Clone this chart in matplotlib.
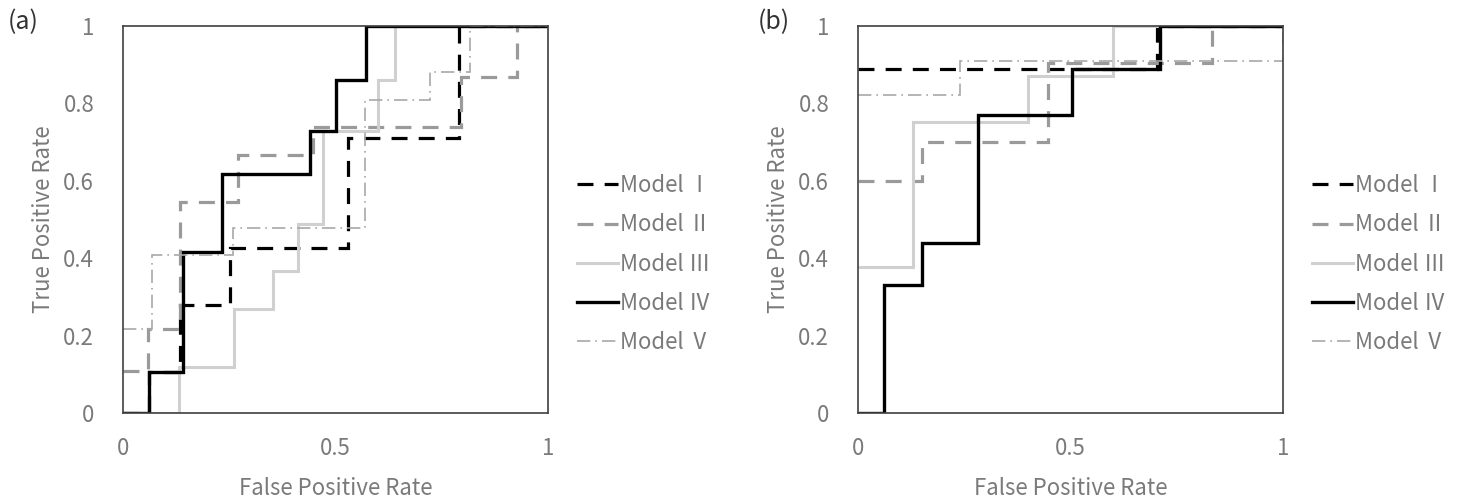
import matplotlib
matplotlib.use("Agg")
import matplotlib.pyplot as plt

plt.rcParams['font.family'] = ['Noto Sans CJK JP', 'DejaVu Sans']

models = ["Model Ⅰ", "Model Ⅱ", "Model Ⅲ", "Model Ⅳ", "Model Ⅴ"]

# Panel (a) ROC vertices (FPR, TPR)
a_fpr = {
    "Model Ⅰ": [0, 0.06, 0.134, 0.251, 0.53, 0.79, 1],
    "Model Ⅱ": [0, 0.059, 0.134, 0.271, 0.448, 0.795, 0.927, 1],
    "Model Ⅲ": [0, 0.132, 0.262, 0.352, 0.412, 0.47, 0.601, 0.64, 1],
    "Model Ⅳ": [0, 0.06, 0.141, 0.232, 0.44, 0.501, 0.572, 1],
    "Model Ⅴ": [0, 0.067, 0.259, 0.57, 0.723, 0.817, 1],
}
a_tpr = {
    "Model Ⅰ": [0, 0.107, 0.28, 0.427, 0.71, 1, 1],
    "Model Ⅱ": [0.108, 0.217, 0.546, 0.667, 0.738, 0.869, 1, 1],
    "Model Ⅲ": [0, 0.12, 0.27, 0.368, 0.49, 0.729, 0.86, 1, 1],
    "Model Ⅳ": [0, 0.107, 0.417, 0.618, 0.729, 0.86, 1, 1],
    "Model Ⅴ": [0.217, 0.409, 0.478, 0.809, 0.88, 1, 1],
}

# Panel (b) ROC vertices (FPR, TPR)
b_fpr = {
    "Model Ⅰ": [0, 0.703, 1],
    "Model Ⅱ": [0, 0.151, 0.448, 0.833, 1],
    "Model Ⅲ": [0, 0.13, 0.399, 0.601, 1],
    "Model Ⅳ": [0, 0.06, 0.151, 0.281, 0.503, 0.711, 1],
    "Model Ⅴ": [0, 0.24, 1, 1],
}
b_tpr = {
    "Model Ⅰ": [0.89, 1, 1],
    "Model Ⅱ": [0.60, 0.701, 0.905, 1, 1],
    "Model Ⅲ": [0.377, 0.753, 0.871, 1, 1],
    "Model Ⅳ": [0, 0.331, 0.44, 0.77, 0.89, 1, 1],
    "Model Ⅴ": [0.822, 0.91, 1, 1],
}

x_ticks = [0, 0.5, 1]
x_ticklabels = ["0", "0.5", "1"]
y_ticks = [0, 0.2, 0.4, 0.6, 0.8, 1]
y_ticklabels = ["0", "0.2", "0.4", "0.6", "0.8", "1"]

styles = {
    "Model Ⅰ": dict(color="#000000", lw=2.3, dashes=(5, 3.5)),
    "Model Ⅱ": dict(color="#9a9a9a", lw=2.3, dashes=(5, 3.5)),
    "Model Ⅲ": dict(color="#d0d0d0", lw=2.2, linestyle="-"),
    "Model Ⅳ": dict(color="#000000", lw=2.4, linestyle="-"),
    "Model Ⅴ": dict(color="#a8a8a8", lw=1.2, dashes=(8, 3, 1, 3)),
}

text_color = "#7a7a7a"
fs = 16

fig = plt.figure(figsize=(14.70, 5.01), dpi=100)
fig.patch.set_facecolor("white")

axes_pos = [
    [123.3 / 1470, (501 - 413.3) / 501, 424.4 / 1470, 387.3 / 501],
    [858.3 / 1470, (501 - 413.3) / 501, 424.4 / 1470, 387.3 / 501],
]
panels = [("(a)", a_fpr, a_tpr, (8, 22)), ("(b)", b_fpr, b_tpr, (758, 22))]

for pos, (lab, fpr, tpr, lpos) in zip(axes_pos, panels):
    ax = fig.add_axes(pos)
    for m in models:
        st = dict(styles[m])
        ax.plot(fpr[m], tpr[m], drawstyle="steps-post", label=m,
                solid_joinstyle="miter", dash_joinstyle="miter",
                dash_capstyle="butt", **st)
    ax.set_xlim(0, 1)
    ax.set_ylim(0, 1)
    ax.set_xticks(x_ticks)
    ax.set_xticklabels(x_ticklabels)
    ax.set_yticks(y_ticks)
    ax.set_yticklabels(y_ticklabels)
    ax.tick_params(axis='x', length=0, labelsize=fs, colors=text_color, pad=17)
    ax.tick_params(axis='y', length=0, labelsize=fs, colors=text_color, pad=21)
    for s in ax.spines.values():
        s.set_color("#404040")
        s.set_linewidth(1.2)
    ax.set_xlabel("False Positive Rate", fontsize=fs, color=text_color, labelpad=12)
    ax.set_ylabel("True Positive Rate", fontsize=fs, color=text_color, labelpad=6)
    leg = ax.legend(loc="center left", bbox_to_anchor=(1.069, 0.385),
                    frameon=False, fontsize=fs, handlelength=1.85,
                    handletextpad=0.1, labelspacing=0.73,
                    borderaxespad=0, borderpad=0)
    for t in leg.get_texts():
        t.set_color(text_color)
    fig.text(lpos[0] / 1470, 1 - lpos[1] / 501, lab, fontsize=18,
             color="#333333", ha="left", va="center")

fig.savefig("out.png", dpi=100, facecolor="white")
